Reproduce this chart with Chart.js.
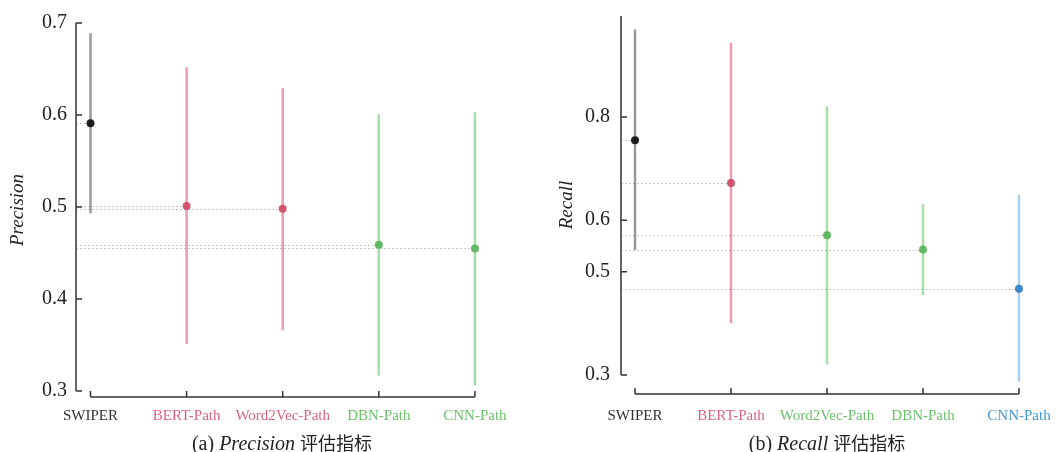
<!DOCTYPE html>
<html>
<head>
<meta charset="utf-8">
<script src="https://cdn.jsdelivr.net/npm/chart.js@4.4.1/dist/chart.umd.min.js"></script>
<style>
  body { margin: 0; background: #fff; width: 1061px; height: 452px; position: relative; overflow: hidden; font-family: "Liberation Serif", serif; }
  .panel { position: absolute; top: 0; width: 530px; height: 430px; }
  .cap { position: absolute; top: 429px; font-size: 20px; color: #222; transform: translateX(-50%); white-space: nowrap; }
  .cap .cn { font-family: "Noto Sans CJK SC", sans-serif; font-size: 18px; }
</style>
</head>
<body>
<div class="panel" style="left:0"><canvas id="precChart"></canvas></div>
<div class="panel" style="left:531px"><canvas id="recChart"></canvas></div>
<div class="cap" style="left:282px">(a) <i>Precision</i> <span class="cn">评估指标</span></div>
<div class="cap" style="left:827px">(b) <i>Recall</i> <span class="cn">评估指标</span></div>

<script>
// models on the x axis
const models = ['SWIPER', 'BERT-Path', 'Word2Vec-Path', 'DBN-Path', 'CNN-Path'];

// (a) precision: mean + interval
const precMean = [0.591, 0.501, 0.498, 0.459, 0.455];
const precLow  = [0.493, 0.351, 0.366, 0.317, 0.306];
const precHigh = [0.689, 0.652, 0.629, 0.601, 0.603];
const precTicks = [0.3, 0.4, 0.5, 0.6, 0.7];

// (b) recall: mean + interval
const recMean = [0.755, 0.672, 0.571, 0.543, 0.467];
const recLow  = [0.542, 0.400, 0.320, 0.455, 0.287];
const recHigh = [0.970, 0.944, 0.821, 0.631, 0.649];
const recTicks = [0.3, 0.5, 0.6, 0.8];

const palette = {
    black: { pt: 'rgba(15,15,15,0.92)', bar: 'rgba(70,70,70,0.55)', text: '#333333' },
    red:   { pt: 'rgba(206,72,102,0.9)', bar: 'rgba(218,92,120,0.6)', text: '#d9667e' },
    green: { pt: 'rgba(92,182,92,0.95)', bar: 'rgba(110,196,110,0.6)', text: '#6cc06c' },
    blue:  { pt: 'rgba(52,132,200,0.95)', bar: 'rgba(90,160,215,0.5)', text: '#4596d4' }
};
const precColors = ['black', 'red', 'red', 'green', 'green'];
const recColors  = ['black', 'red', 'green', 'green', 'blue'];

Chart.defaults.font.family = '"Liberation Serif", serif';
Chart.defaults.color = '#222';

// error bars, guide lines and trimmed spines
const decor = {
    id: 'decor',
    beforeDatasetsDraw(chart, args, opts) {
        const ctx = chart.ctx, x = chart.scales.x, y = chart.scales.y, area = chart.chartArea;
        ctx.save();
        // dotted guides from the y spine to each point
        ctx.strokeStyle = 'rgba(175,175,175,0.7)';
        ctx.lineWidth = 1;
        ctx.setLineDash([2, 2]);
        opts.mean.forEach((v, i) => {
            const py = Math.round(y.getPixelForValue(v)) + 0.5;
            ctx.beginPath();
            ctx.moveTo(area.left, py);
            ctx.lineTo(x.getPixelForValue(i), py);
            ctx.stroke();
        });
        ctx.setLineDash([]);
        // vertical interval bars
        ctx.lineWidth = 2.5;
        opts.low.forEach((lo, i) => {
            const px = x.getPixelForValue(i);
            ctx.strokeStyle = palette[opts.colors[i]].bar;
            ctx.beginPath();
            ctx.moveTo(px, y.getPixelForValue(lo));
            ctx.lineTo(px, y.getPixelForValue(opts.high[i]));
            ctx.stroke();
        });
        // spines
        ctx.strokeStyle = '#333';
        ctx.lineWidth = 1.5;
        const yb = y.getPixelForValue(opts.ticks[0]);
        ctx.beginPath();
        ctx.moveTo(area.left, yb);
        ctx.lineTo(area.left, area.top);
        opts.ticks.forEach(t => {
            const ty = y.getPixelForValue(t);
            ctx.moveTo(area.left, ty);
            ctx.lineTo(area.left + 6, ty);
        });
        const x0 = x.getPixelForValue(0), x1 = x.getPixelForValue(models.length - 1);
        ctx.moveTo(x0, area.bottom);
        ctx.lineTo(x1, area.bottom);
        models.forEach((m, i) => {
            const tx = x.getPixelForValue(i);
            ctx.moveTo(tx, area.bottom);
            ctx.lineTo(tx, area.bottom - 6);
        });
        ctx.stroke();
        ctx.restore();
    }
};

function makeChart(id, mean, low, high, ticks, colors, lim, title, cfg) {
    return new Chart(document.getElementById(id), {
        type: 'scatter',
        data: {
            datasets: [{
                data: mean.map((v, i) => ({ x: i, y: v })),
                pointRadius: 4,
                pointHoverRadius: 4,
                pointBorderWidth: 0,
                pointBackgroundColor: colors.map(c => palette[c].pt)
            }]
        },
        options: {
            responsive: true,
            maintainAspectRatio: false,
            animation: false,
            events: [],
            layout: { padding: { top: cfg.top, right: cfg.right, left: 0, bottom: 0 } },
            plugins: {
                legend: { display: false },
                tooltip: { enabled: false },
                decor: { mean, low, high, ticks, colors }
            },
            scales: {
                x: {
                    type: 'linear',
                    min: cfg.xMin,
                    max: cfg.xMax,
                    grid: { display: false, drawTicks: false },
                    border: { display: false },
                    afterBuildTicks: s => { s.ticks = models.map((m, i) => ({ value: i })); },
                    afterFit: s => { s.height = cfg.xHeight; s.paddingLeft = 0; s.paddingRight = 0; },
                    ticks: {
                        autoSkip: false,
                        maxRotation: 0,
                        padding: cfg.xPad,
                        font: { size: 15 },
                        color: c => palette[colors[c.index]].text,
                        callback: v => models[v]
                    }
                },
                y: {
                    min: lim[0],
                    max: lim[1],
                    grid: { display: false, drawTicks: false },
                    border: { display: false },
                    afterBuildTicks: s => { s.ticks = ticks.map(v => ({ value: v })); },
                    afterFit: s => { s.width = cfg.yWidth; s.paddingTop = 0; s.paddingBottom = 0; },
                    ticks: {
                        padding: cfg.yPad,
                        font: { size: 20 },
                        color: '#222',
                        callback: v => v.toFixed(1)
                    },
                    title: {
                        display: true,
                        text: title,
                        font: { size: 19, style: 'italic' },
                        color: '#222',
                        padding: { top: cfg.titlePad, bottom: 0 }
                    }
                }
            }
        },
        plugins: [decor]
    });
}

makeChart('precChart', precMean, precLow, precHigh, precTicks, precColors, [0.2935, 0.7], 'Precision',
    { top: 23, right: 40, xMin: -0.151, xMax: 4.157, xHeight: 33, xPad: 10, yWidth: 76, yPad: 9, titlePad: 7 });
makeChart('recChart', recMean, recLow, recHigh, recTicks, recColors, [0.263, 0.996], 'Recall',
    { top: 16, right: 28, xMin: -0.146, xMax: 4.146, xHeight: 36, xPad: 13, yWidth: 90, yPad: 11, titlePad: 25 });
</script>
</body>
</html>
